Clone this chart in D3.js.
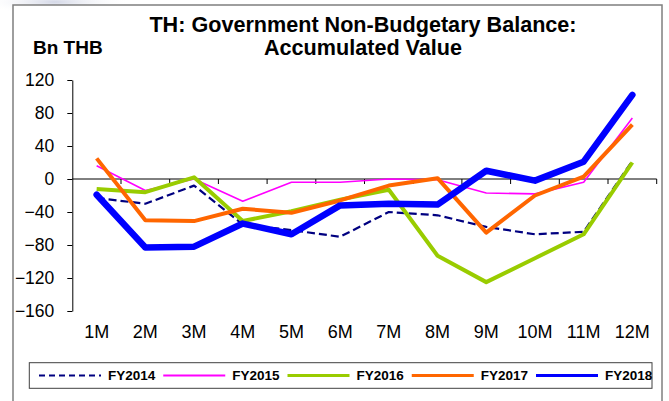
<!DOCTYPE html>
<html>
<head>
<meta charset="utf-8">
<script src="https://cdn.jsdelivr.net/npm/d3@7"></script>
<style>
  html, body { margin: 0; padding: 0; background: #fff; }
  svg { display: block; font-family: "Liberation Sans", Arial, sans-serif; }
</style>
</head>
<body>
<svg id="chart" width="669" height="401"></svg>
<script>
const categories = ["1M","2M","3M","4M","5M","6M","7M","8M","9M","10M","11M","12M"];
const yTicks = [120, 80, 40, 0, -40, -80, -120, -160];
const seriesNames = ["FY2014","FY2015","FY2016","FY2017","FY2018"];
const fy2014 = [-23, -30, -8, -55, -62, -70, -40, -44, -58, -67, -64, 22];
const fy2015 = [16, -14, 0, -27, -4, -4, 0, -1, -17, -18, -4, 74];
const fy2016 = [-12, -16, 2, -51, -39, -25, -13, -93, -125, -96, -67, 20];
const fy2017 = [25, -50, -51, -36, -41, -26, -8, 1, -65, -20, 3, 66];
const fy2018 = [-19, -83, -82, -54, -67, -32, -30, -31, 10, -2, 21, 102];

const seriesData = [fy2014, fy2015, fy2016, fy2017, fy2018];
const styles = [
  {color: "#000080", width: 2.2, dash: "8,4", lw: 2.2, ldash: "6,4"},
  {color: "#FF00FF", width: 1.6, dash: null, lw: 2, ldash: null},
  {color: "#99CC00", width: 4, dash: null, lw: 3, ldash: null},
  {color: "#FF6600", width: 4, dash: null, lw: 3, ldash: null},
  {color: "#0000FF", width: 6.5, dash: null, lw: 3, ldash: null}
];

const svg = d3.select("#chart");

// faint shadow at top-left corner
const defs = svg.append("defs");
const rg = defs.append("radialGradient").attr("id", "glow");
rg.append("stop").attr("offset", "0%").attr("stop-color", "#c8cde0").attr("stop-opacity", 0.8);
rg.append("stop").attr("offset", "100%").attr("stop-color", "#ffffff").attr("stop-opacity", 0);
svg.append("ellipse").attr("cx", 55).attr("cy", 2).attr("rx", 75).attr("ry", 12).attr("fill", "url(#glow)");

// outer frame
svg.append("rect").attr("x", 13).attr("y", 5).attr("width", 649).attr("height", 420)
  .attr("fill", "#fff").attr("stroke", "#7f7f7f").attr("stroke-width", 1.5);

// titles
svg.append("text").attr("x", 363).attr("y", 32).attr("text-anchor", "middle")
  .attr("font-weight", "bold").attr("font-size", 21.6).text("TH: Government Non-Budgetary Balance:");
svg.append("text").attr("x", 363).attr("y", 55).attr("text-anchor", "middle")
  .attr("font-weight", "bold").attr("font-size", 21.6).text("Accumulated Value");
svg.append("text").attr("x", 33).attr("y", 54).attr("text-anchor", "start")
  .attr("font-weight", "bold").attr("font-size", 19).text("Bn THB");

const x = d3.scaleBand().domain(categories).range([72.3, 656.7]).padding(0);
const y = d3.scaleLinear().domain([-160, 120]).range([311, 80]);
const cx = c => x(c) + x.bandwidth() / 2;

// y axis
const yAxis = svg.append("g").attr("transform", "translate(72.3,0)")
  .call(d3.axisLeft(y).tickValues(yTicks).tickSize(5).tickPadding(13).tickSizeOuter(0));
yAxis.selectAll("text").attr("font-size", 17.5).attr("fill", "#000")
  .attr("font-family", "Liberation Sans, Arial, sans-serif");
yAxis.selectAll("path,line").attr("stroke", "#000").attr("stroke-width", 1);

// zero line with category boundary ticks
const zg = svg.append("g");
zg.append("line").attr("x1", x.range()[0]).attr("x2", x.range()[1])
  .attr("y1", y(0)).attr("y2", y(0)).attr("stroke", "#000").attr("stroke-width", 1);
const bounds = categories.map(c => x(c)).concat([x.range()[1]]);
zg.selectAll("line.tk").data(bounds.slice(1)).enter().append("line").attr("class", "tk")
  .attr("x1", d => d).attr("x2", d => d).attr("y1", y(0)).attr("y2", y(0) + 5)
  .attr("stroke", "#000").attr("stroke-width", 1);

// x labels
const xAxis = svg.append("g").attr("transform", "translate(0,311)")
  .call(d3.axisBottom(x).tickSize(0).tickPadding(14));
xAxis.select(".domain").remove();
xAxis.selectAll("text").attr("font-size", 18).attr("fill", "#000")
  .attr("font-family", "Liberation Sans, Arial, sans-serif");

// lines
const line = d3.line().x((d, i) => cx(categories[i])).y(d => y(d));
seriesData.forEach((s, k) => {
  const st = styles[k];
  svg.append("path").datum(s).attr("d", line).attr("fill", "none")
    .attr("stroke", st.color).attr("stroke-width", st.width)
    .attr("stroke-linejoin", "round").attr("stroke-linecap", k === 4 ? "round" : "butt")
    .attr("stroke-dasharray", st.dash);
});

// legend
const lg = svg.append("g");
lg.append("rect").attr("x", 29.3).attr("y", 362.7).attr("width", 622.7).attr("height", 25.6)
  .attr("fill", "#fff").attr("stroke", "#404040").attr("stroke-width", 1);
seriesNames.forEach((n, k) => {
  const st = styles[k];
  const x0 = 39 + k * 124.25;
  lg.append("line").attr("x1", x0).attr("x2", x0 + 62).attr("y1", 375.5).attr("y2", 375.5)
    .attr("stroke", st.color).attr("stroke-width", st.lw).attr("stroke-dasharray", st.ldash);
  lg.append("text").attr("x", x0 + 69).attr("y", 380.3).attr("font-weight", "bold")
    .attr("font-size", 13.5).attr("fill", "#000").text(n);
});
</script>
</body>
</html>
